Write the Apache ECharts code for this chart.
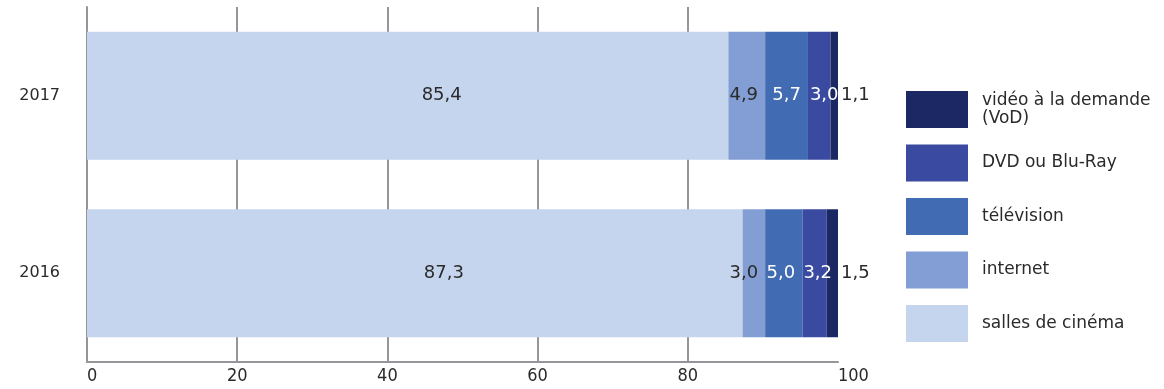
<!DOCTYPE html>
<html>
<head>
<meta charset="utf-8">
<script src="https://cdn.jsdelivr.net/npm/echarts@6/dist/echarts.min.js"></script>
<style>html,body{margin:0;padding:0;background:#fff}#c{width:1164px;height:389px}</style>
</head>
<body>
<div id="c"></div>
<script>
const years = ['2016', '2017'];
const seriesNames = ['salles de cinéma', 'internet', 'télévision', 'DVD ou Blu-Ray', 'vidéo à la demande\n(VoD)'];
const salles = [87.3, 85.4];
const internet = [3.0, 4.9];
const television = [5.0, 5.7];
const dvd = [3.2, 3.0];
const vod = [1.5, 1.1];
const xTicks = [0, 20, 40, 60, 80, 100];

// styling (label nudges per series and year, in px)
const colors = ['#c5d5ee', '#829ed4', '#416bb3', '#3a4aa0', '#1b2864'];
const labelColors = ['#2a2a2a', '#2a2a2a', '#ffffff', '#ffffff', '#2a2a2a'];
const labelNudge = [[29, 34], [-10, -3], [-3, 0], [3, 5], [0, 0]];
const values = [salles, internet, television, dvd, vod];
const fmt = p => Number(p.value).toFixed(1).replace('.', ',');
const font = '"DejaVu Sans", sans-serif';

const series = values.map((v, i) => ({
  name: seriesNames[i],
  type: 'bar',
  stack: 'total',
  barCategoryGap: '28%',
  itemStyle: { color: colors[i] },
  data: v.map((val, j) => ({
    value: val,
    label: { offset: [labelNudge[i][j], 0] }
  })),
  label: {
    show: true,
    position: i === 4 ? 'right' : 'inside',
    distance: 3,
    color: labelColors[i],
    fontSize: 18,
    fontFamily: font,
    formatter: fmt
  }
}));

const chart = echarts.init(document.getElementById('c'));
chart.setOption({
  animation: false,
  grid: { left: 87, right: 326, top: 7, bottom: 27, containLabel: false },
  xAxis: {
    type: 'value', min: xTicks[0], max: xTicks[xTicks.length - 1], interval: 20,
    axisLine: { show: true, lineStyle: { color: '#96959a', width: 2 } },
    axisTick: { show: false },
    axisLabel: { color: '#2a2a2a', fontSize: 18, fontFamily: '"DejaVu Sans Condensed", "DejaVu Sans", sans-serif', margin: 5,
      alignMinLabel: 'left', alignMaxLabel: 'left' },
    splitLine: { show: true, showMaxLine: false, lineStyle: { color: '#96959a', width: 2 } }
  },
  yAxis: {
    type: 'category', data: years,
    axisLine: { show: true, lineStyle: { color: '#96959a', width: 2 } },
    axisTick: { show: false },
    axisLabel: { color: '#2a2a2a', fontSize: 16, fontFamily: font, margin: 27 }
  },
  legend: {
    orient: 'vertical', left: 906, top: 91, padding: 0,
    itemWidth: 62, itemHeight: 37, itemGap: 16.5,
    icon: 'rect',
    data: seriesNames.slice().reverse(),
    textStyle: { color: '#2a2a2a', fontSize: 17, fontFamily: font, lineHeight: 18.5, padding: [0, 0, 0, 9] }
  },
  series: series
});
</script>
</body>
</html>
